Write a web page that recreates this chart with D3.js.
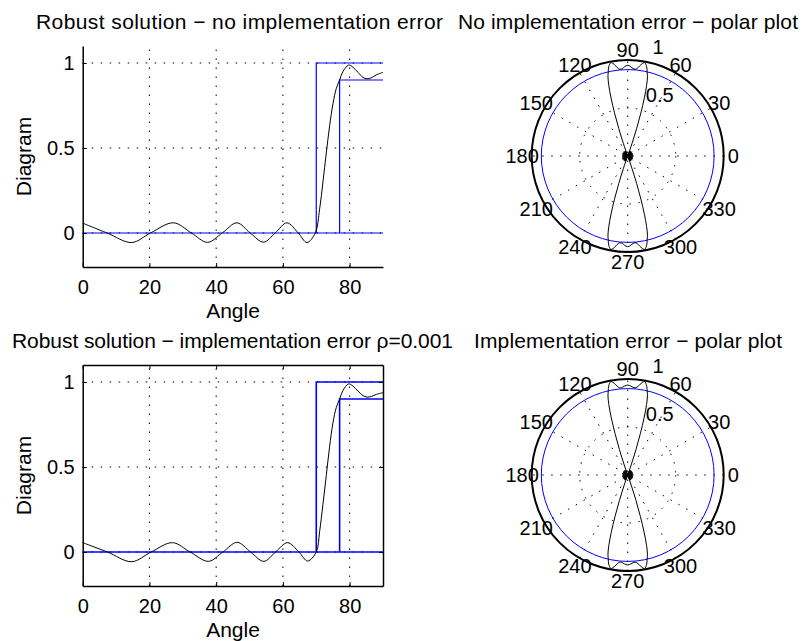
<!DOCTYPE html>
<html>
<head>
<meta charset="utf-8">
<script src="https://cdn.jsdelivr.net/npm/d3@7"></script>
<style>
  body { margin: 0; background: #fff; }
  svg { font-family: "Liberation Sans", Arial, Helvetica, sans-serif; }
</style>
</head>
<body>
<div class="chart"></div>
<script>
// beam pattern (angle in degrees, diagram value)
var angleTop = [0, 7.3, 14.7, 20.3, 27.2, 32.6, 37.4, 41.8, 46.2, 50.2, 54.2, 57.7, 61.2, 64.6, 67.2, 69.7,
                71, 72, 73, 74, 75, 76, 77, 78, 79.7, 81, 82.5, 84, 85.2, 86.5, 88, 90];
var diagTop  = [0.058, 0, -0.056, 0, 0.06, 0, -0.055, 0, 0.06, 0, -0.054, 0, 0.06, 0, -0.056, 0,
                0.14, 0.3, 0.47, 0.63, 0.76, 0.85, 0.9, 0.95, 0.988, 0.975, 0.945, 0.915, 0.907, 0.913, 0.93, 0.945];

var angleBot = [0, 7.4, 14.7, 20.5, 26.9, 32.2, 37.7, 42, 46.3, 50.3, 54.3, 57.8, 61.4, 64.8, 67.4, 70,
                71, 72, 73, 74, 75, 76, 77, 78, 79.7, 81, 82.5, 84, 85.2, 86.5, 88, 90];
var diagBot  = [0.055, 0, -0.057, 0, 0.055, 0, -0.055, 0, 0.057, 0, -0.055, 0, 0.055, 0, -0.053, 0,
                0.12, 0.28, 0.45, 0.62, 0.76, 0.85, 0.9, 0.95, 0.989, 0.976, 0.947, 0.92, 0.911, 0.915, 0.927, 0.937];

// specification mask (blue)
var maskAngles = [70, 77];
var maskLevels = [1, 0.9];

var xTicks = [0, 20, 40, 60, 80];
var yTicks = [0, 0.5, 1];
var polarSpokes = [0, 30, 60, 90, 120, 150, 180, 210, 240, 270, 300, 330];
var polarRings = [0.5, 1];

var titlesLeft = ["Robust solution \u2212 no implementation error",
                  "Robust solution \u2212 implementation error \u03c1=0.001"];
var titlesRight = ["No implementation error \u2212 polar plot",
                   "Implementation error \u2212 polar plot"];

var svg = d3.select(".chart").append("svg")
  .attr("width", 803)
  .attr("height", 641);

var dots = "1.5,7.5";

function drawCartesian(k, angles, vals, boxOn) {
  var off = k * 319;
  var top = 46 + off, bottom = 267 + off;
  var x = d3.scaleLinear().domain([0, 90]).range([82.7, 383]);
  var y = d3.scaleLinear().domain([-0.2, 1.1]).range([bottom, top]);
  var g = svg.append("g");

  // grid
  g.selectAll(".vgrid").data(xTicks.slice(1)).enter().append("line")
    .attr("x1", d => x(d)).attr("x2", d => x(d))
    .attr("y1", bottom).attr("y2", top)
    .attr("stroke", "#000").attr("stroke-width", 1).attr("stroke-dasharray", dots);
  g.selectAll(".hgrid").data(yTicks).enter().append("line")
    .attr("x1", x(0)).attr("x2", x(90))
    .attr("y1", d => y(d)).attr("y2", d => y(d))
    .attr("stroke", "#000").attr("stroke-width", 1).attr("stroke-dasharray", dots);

  // mask
  var mask = [
    [[0, 0], [90, 0]],
    [[maskAngles[0], 0], [maskAngles[0], maskLevels[0]], [90, maskLevels[0]]],
    [[maskAngles[1], 0], [maskAngles[1], maskLevels[1]], [90, maskLevels[1]]]
  ];
  var mline = d3.line().x(d => x(d[0])).y(d => y(d[1]));
  g.selectAll(".mask").data(mask).enter().append("path")
    .attr("d", mline)
    .attr("fill", "none")
    .attr("stroke", "#0000ff")
    .attr("stroke-width", k == 0 ? 1.2 : 1.6);

  // pattern
  var line = d3.line()
    .x((d, i) => x(angles[i]))
    .y(d => y(d))
    .curve(d3.curveCatmullRom);
  g.append("path")
    .attr("d", line(vals))
    .attr("fill", "none")
    .attr("stroke", "#000")
    .attr("stroke-width", 1);

  // axes
  g.append("g")
    .attr("transform", `translate(0, ${bottom})`)
    .call(d3.axisBottom(x).tickValues(xTicks).tickSizeInner(-4).tickSizeOuter(0).tickPadding(13)
      .tickFormat(d3.format("~g")));
  g.append("g")
    .attr("transform", `translate(${x(0)}, 0)`)
    .call(d3.axisLeft(y).tickValues(yTicks).tickSizeInner(-4).tickSizeOuter(0).tickPadding(8)
      .tickFormat(d3.format("~g")));
  if (boxOn) {
    g.append("g")
      .attr("transform", `translate(0, ${top})`)
      .call(d3.axisTop(x).tickValues(xTicks).tickSizeInner(-4).tickSizeOuter(0).tickFormat(""));
    g.append("g")
      .attr("transform", `translate(${x(90)}, 0)`)
      .call(d3.axisRight(y).tickValues(yTicks).tickSizeInner(-4).tickSizeOuter(0).tickFormat(""));
  }
  g.selectAll(".domain").attr("stroke", "#000").attr("stroke-width", 1.5);
  g.selectAll(".tick line").attr("stroke", "#000");
  g.selectAll(".tick text")
    .attr("font-size", 20)
    .attr("font-family", "Liberation Sans, Arial, sans-serif")
    .attr("fill", "#000");

  // labels
  g.append("text")
    .attr("x", 233).attr("y", bottom + 50.5)
    .attr("text-anchor", "middle")
    .attr("font-size", 21)
    .text("Angle");
  g.append("text")
    .attr("transform", `translate(31, ${(top + bottom) / 2}) rotate(-90)`)
    .attr("text-anchor", "middle")
    .attr("font-size", 21)
    .text("Diagram");
  g.append("text")
    .attr("x", k == 0 ? 239.5 : 232.5).attr("y", 29 + k * 319)
    .attr("text-anchor", "middle")
    .attr("font-size", 21)
    .attr("textLength", k == 0 ? 407 : 441)
    .attr("lengthAdjust", "spacing")
    .text(titlesLeft[k]);
}

function drawPolar(k, angles, vals) {
  var cx = 627.7, cy = 156 + k * 319;
  var r = d3.scaleLinear().domain([0, 1]).range([0, 96]);
  var g = svg.append("g");
  var rad = d => d * Math.PI / 180;

  // dotted rings and spokes
  g.selectAll(".ring").data(polarRings.slice(0, -1)).enter().append("circle")
    .attr("cx", cx).attr("cy", cy).attr("r", d => r(d))
    .attr("fill", "none").attr("stroke", "#000").attr("stroke-dasharray", dots);
  g.selectAll(".spoke").data(polarSpokes.slice(1, 7)).enter().append("line")
    .attr("x1", d => cx - r(1) * Math.cos(rad(d))).attr("y1", d => cy + r(1) * Math.sin(rad(d)))
    .attr("x2", d => cx + r(1) * Math.cos(rad(d))).attr("y2", d => cy - r(1) * Math.sin(rad(d)))
    .attr("stroke", "#000").attr("stroke-dasharray", dots);

  // outer ring
  g.append("circle")
    .attr("cx", cx).attr("cy", cy).attr("r", r(1))
    .attr("fill", "none").attr("stroke", "#000").attr("stroke-width", 2);

  // spoke labels
  g.selectAll(".alab").data(polarSpokes).enter().append("text")
    .attr("x", d => cx + r(1.1) * Math.cos(rad(d)))
    .attr("y", d => cy - r(1.1) * Math.sin(rad(d)))
    .attr("text-anchor", "middle")
    .attr("dominant-baseline", "central")
    .attr("font-size", 20)
    .text(d => d);
  // ring labels at 82 degrees
  g.selectAll(".rlab").data(polarRings).enter().append("text")
    .attr("x", d => cx + r(d + 0.025) * Math.cos(rad(82)))
    .attr("y", d => cy - r(d + 0.025) * Math.sin(rad(82)))
    .attr("dx", "0.556em")
    .attr("dy", "-0.21em")
    .attr("font-size", 20)
    .text(d => d);

  // blue mask level circle
  g.append("circle")
    .attr("cx", cx).attr("cy", cy).attr("r", r(maskLevels[1]))
    .attr("fill", "none").attr("stroke", "#0000ff").attr("stroke-width", 1);

  // pattern mirrored into the four quadrants
  var n = angles.length, pts = [];
  for (var i = 0; i < n; i++) pts.push([angles[i], vals[i]]);
  for (var i = n - 2; i >= 0; i--) pts.push([180 - angles[i], vals[i]]);
  for (var i = 1; i < n; i++) pts.push([180 + angles[i], vals[i]]);
  for (var i = n - 2; i > 0; i--) pts.push([360 - angles[i], vals[i]]);
  var pl = d3.line()
    .x(d => cx + r(d[1]) * Math.cos(rad(d[0])))
    .y(d => cy - r(d[1]) * Math.sin(rad(d[0])))
    .curve(d3.curveCatmullRomClosed);
  g.append("path")
    .attr("d", pl(pts))
    .attr("fill", "none")
    .attr("stroke", "#000")
    .attr("stroke-width", 1);

  g.append("text")
    .attr("x", 628).attr("y", 29 + k * 319)
    .attr("text-anchor", "middle")
    .attr("font-size", 21)
    .attr("textLength", k == 0 ? 340 : 308)
    .attr("lengthAdjust", "spacing")
    .text(titlesRight[k]);
}

drawCartesian(0, angleTop, diagTop, false);
drawCartesian(1, angleBot, diagBot, true);
drawPolar(0, angleTop, diagTop);
drawPolar(1, angleBot, diagBot);
</script>
</body>
</html>
